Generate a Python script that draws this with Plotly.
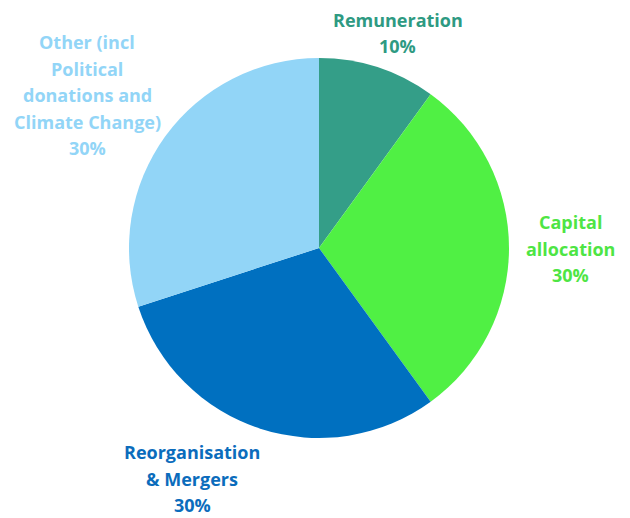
import plotly.graph_objects as go

categories = ["Remuneration", "Capital allocation", "Reorganisation & Mergers",
              "Other (incl Political donations and Climate Change)"]
values = [10, 30, 30, 30]
slice_colors = ["#349E88", "#50F044", "#0070C0", "#92D5F7"]
label_colors = ["#2E9A82", "#4EE544", "#0B6CBC", "#92D5F7"]
label_lines = [
    ["Remuneration"],
    ["Capital", "allocation"],
    ["Reorganisation", "& Mergers"],
    ["Other (incl", "Political", "donations and", "Climate Change)"],
]

OFF = 8  # page body margin
W, H = 630 - OFF, 518 - OFF
cx, cy, r = 319 - OFF, 248 - OFF, 190

fig = go.Figure(go.Pie(
    labels=categories, values=values, sort=False, direction="clockwise",
    rotation=0, textinfo="none", hoverinfo="label+percent",
    marker=dict(colors=slice_colors, line=dict(width=0)),
    domain=dict(x=[(cx - r) / W, (cx + r) / W], y=[(H - cy - r) / H, (H - cy + r) / H]),
    showlegend=False,
))

# label block anchors (center x, first line y) in window pixels
anchors = [(398, 20), (570, 222), (192, 452), (87, 42)]
spacing = 26.5
total = sum(values)
annotations = []
for i, lines in enumerate(label_lines):
    pct = f"{round(values[i] / total * 100)}%"
    ax, ay = anchors[i]
    for j, t in enumerate(lines + [pct]):
        y = ay + j * spacing - OFF
        annotations.append(dict(
            x=(ax - OFF) / W, y=1 - y / H, xref="paper", yref="paper", text=t,
            showarrow=False, xanchor="center", yanchor="middle",
            font=dict(family="Open Sans", size=18, color=label_colors[i], weight="bold"),
        ))

fig.update_layout(
    width=W, height=H, margin=dict(l=0, r=0, t=0, b=0),
    paper_bgcolor="white", plot_bgcolor="white",
    annotations=annotations,
)
fig.write_html("out.html")
